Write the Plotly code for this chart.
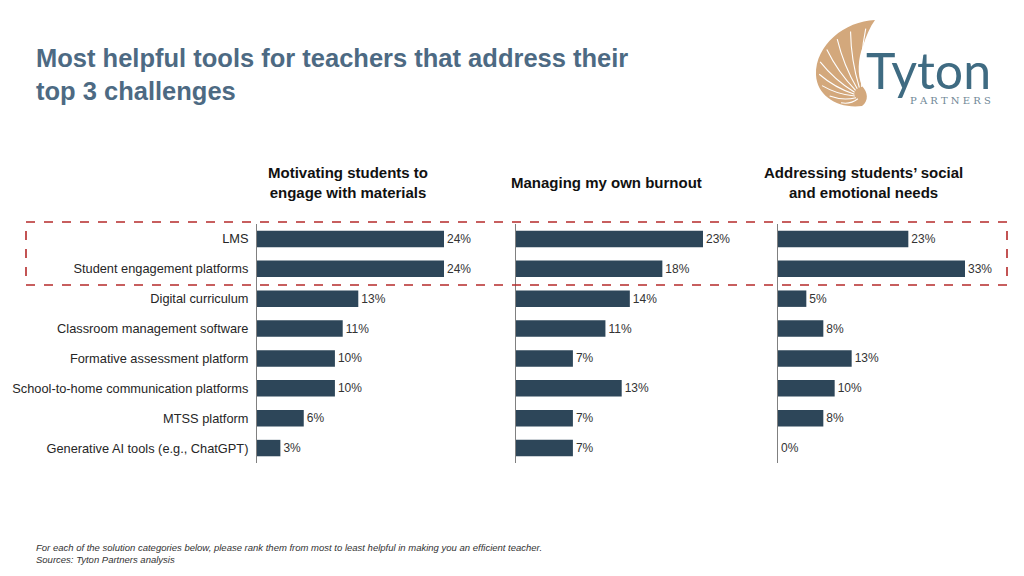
import math
import plotly.graph_objects as go

W, H = 1024, 576

categories = ["LMS", "Student engagement platforms", "Digital curriculum",
              "Classroom management software", "Formative assessment platform",
              "School-to-home communication platforms", "MTSS platform",
              "Generative AI tools (e.g., ChatGPT)"]
panel_titles = ["Motivating students to<br>engage with materials",
                "Managing my own burnout",
                "Addressing students’ social<br>and emotional needs"]
motivating = [24, 24, 13, 11, 10, 10, 6, 3]
burnout = [23, 18, 14, 11, 7, 13, 7, 7]
social = [23, 33, 5, 8, 13, 10, 8, 0]
series = [motivating, burnout, social]

BAR = "#2d4659"
TITLE_C = "#4d6a83"
FONT = "Liberation Sans, Arial, sans-serif"


def px(x):
    return x / W


def py(y):
    return 1 - y / H


def P(x, y):
    return f"{px(x):.5f},{py(y):.5f}"


fig = go.Figure()

panel_px = [(257, 497), (516, 756), (778, 1018)]
top_px = 187  # pixel length of the longest bar in each panel
y_dom = [py(463), py(224)]

for i, vals in enumerate(series):
    xa = "x" if i == 0 else f"x{i+1}"
    ya = "y" if i == 0 else f"y{i+1}"
    fig.add_trace(go.Bar(
        x=vals, y=categories, orientation="h",
        marker=dict(color=BAR, line=dict(width=0)),
        width=0.55,
        text=[f"{v}%" for v in vals], textposition="outside",
        textfont=dict(family=FONT, size=12, color="#333333"),
        cliponaxis=False,
        xaxis=xa, yaxis=ya, showlegend=False, hoverinfo="skip",
    ))
    a, b = panel_px[i]
    rng = max(vals) * (b - a) / top_px
    fig.layout[f"xaxis{'' if i == 0 else i+1}"] = dict(
        domain=[px(a), px(b)], range=[0, rng], anchor=ya,
        showgrid=False, zeroline=False, showline=False,
        showticklabels=False, fixedrange=True)
    fig.layout[f"yaxis{'' if i == 0 else i+1}"] = dict(
        domain=y_dom, anchor=xa, autorange="reversed",
        categoryorder="array", categoryarray=categories,
        showgrid=False, zeroline=False, showline=True,
        linecolor="#808080", linewidth=1, ticks="",
        showticklabels=(i == 0), ticklabelstandoff=5,
        tickfont=dict(family=FONT, size=12.8, color="#262626"),
        fixedrange=True)
    cx = [348, 606, 863][i]
    fig.add_annotation(x=px(cx), y=py(183), xref="paper", yref="paper",
                       text=f"<b>{panel_titles[i]}</b>", showarrow=False,
                       xanchor="center", yanchor="middle", align="center",
                       font=dict(family=FONT, size=15, color="#111111"))

# Title
fig.add_annotation(x=px(34), y=py(74), xref="paper", yref="paper",
                   text="<b>Most helpful tools for teachers that address their<br>top 3 challenges</b>",
                   showarrow=False, xanchor="left", yanchor="middle", align="left",
                   font=dict(family=FONT, size=25.5, color=TITLE_C))

# Footnote
fig.add_annotation(x=px(34), y=py(553), xref="paper", yref="paper",
                   text="<i>For each of the solution categories below, please rank them from most to least helpful in making you an efficient teacher.<br>Sources: Tyton Partners analysis</i>",
                   showarrow=False, xanchor="left", yanchor="middle", align="left",
                   font=dict(family=FONT, size=9.5, color="#333333"))

shapes = []
# dashed highlight box
shapes.append(dict(type="rect", xref="paper", yref="paper",
                   x0=px(26), x1=px(1007), y0=py(285), y1=py(222),
                   line=dict(color="#b52a2a", width=1.6, dash="dash"),
                   fillcolor="rgba(0,0,0,0)", layer="above"))

# logo shell body
shell = (f"M {P(875,20)} C {P(845,21)} {P(815,45)} {P(816,75)} "
         f"C {P(817,96)} {P(838,109)} {P(862,106)} "
         f"C {P(869,101)} {P(868,92)} {P(862,86)} "
         f"C {P(857,75)} {P(858,58)} {P(863,46)} "
         f"C {P(866,36)} {P(870,27)} {P(875,20)} Z")
shapes.append(dict(type="path", xref="paper", yref="paper", path=shell,
                   fillcolor="#d3a87c", line=dict(width=0), layer="above"))
# white rays
fx, fy = 861, 98
outer = [(866, 25), (850, 28), (836, 36), (825, 47), (818, 60), (817, 73),
         (820, 85), (828, 96), (840, 103)]
for ox, oy in outer:
    sx = fx + (ox - fx) * 0.15
    sy = fy + (oy - fy) * 0.15
    ex = fx + (ox - fx) * 0.95
    ey = fy + (oy - fy) * 0.95
    mx, my = (sx + ex) / 2, (sy + ey) / 2
    dx, dy = ex - sx, ey - sy
    ln = math.hypot(dx, dy)
    cxp, cyp = mx + dy / ln * 4, my - dx / ln * 4
    shapes.append(dict(type="path", xref="paper", yref="paper",
                       path=f"M {P(sx,sy)} Q {P(cxp,cyp)} {P(ex,ey)}",
                       line=dict(color="white", width=1.1), layer="above"))
fig.update_layout(shapes=shapes)

fig.add_annotation(x=px(864), y=py(70), xref="paper", yref="paper", text="Tyton",
                   showarrow=False, xanchor="left", yanchor="middle",
                   font=dict(family="Lato, Open Sans, sans-serif", size=50, color="#3f6b82"))
fig.add_annotation(x=px(993), y=py(100), xref="paper", yref="paper",
                   text="P A R T N E R S", showarrow=False,
                   xanchor="right", yanchor="middle",
                   font=dict(family="DejaVu Serif, serif", size=10, color="#6f8796"))

fig.update_layout(width=W, height=H, margin=dict(l=0, r=0, t=0, b=0),
                  plot_bgcolor="white", paper_bgcolor="white",
                  bargap=0.45, font=dict(family=FONT))

fig.write_html("out.html")
